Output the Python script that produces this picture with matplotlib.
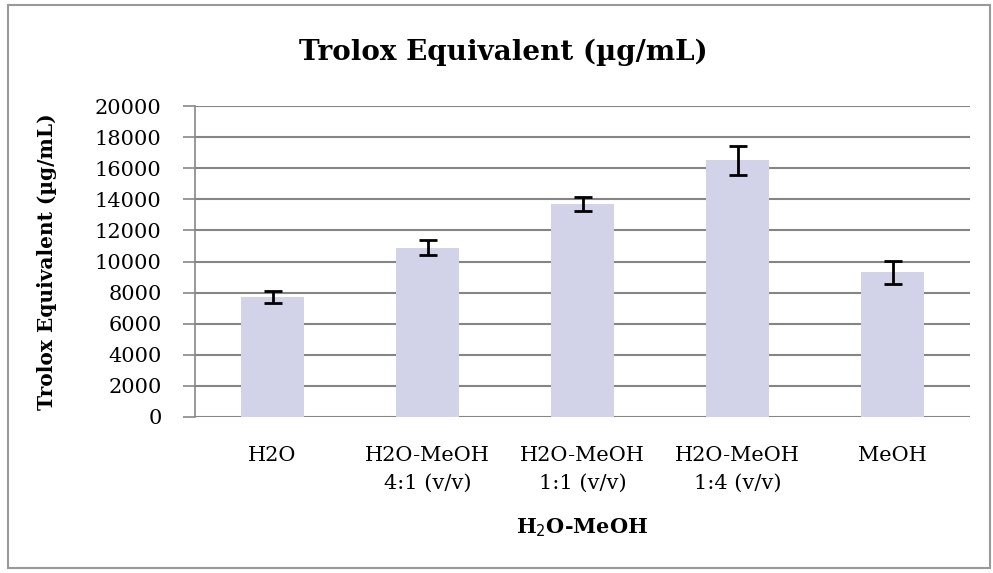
import matplotlib
matplotlib.use("Agg")
import matplotlib.pyplot as plt
from matplotlib.patches import Rectangle

# data
categories = ["H2O", "H2O-MeOH\n4:1 (v/v)", "H2O-MeOH\n1:1 (v/v)", "H2O-MeOH\n1:4 (v/v)", "MeOH"]
trolox = [7700, 10900, 13700, 16500, 9300]
trolox_err = [400, 500, 450, 950, 750]
yticks = [0, 2000, 4000, 6000, 8000, 10000, 12000, 14000, 16000, 18000, 20000]

plt.rcParams['font.family'] = ['DejaVu Serif']

fig = plt.figure(figsize=(9.93, 5.73), dpi=100)
ax = fig.add_axes([195/993, 1 - 417/573, 775/993, 311/573])

x = range(len(categories))
ax.bar(x, trolox, width=0.41, color='#d2d2e8', zorder=2,
       yerr=trolox_err, error_kw=dict(ecolor='black', elinewidth=2, capsize=6.5, capthick=2, zorder=3))

ax.set_xlim(-0.5, 4.5)
ax.set_ylim(0, 20000)
ax.set_yticks(yticks)
ax.set_yticklabels([str(v) for v in yticks], fontsize=15)
ax.set_xticks(list(x))
ax.set_xticklabels(categories, fontsize=15, linespacing=1.55)
ax.tick_params(axis='x', length=0, pad=21)
ax.tick_params(axis='y', length=9, width=1.2, color='#888888', pad=15)
ax.yaxis.grid(True, color='#858585', linewidth=1.5, zorder=1)
for s in ['top', 'right', 'bottom']:
    ax.spines[s].set_visible(False)
ax.spines['left'].set_color('#888888')
ax.spines['left'].set_linewidth(1.2)

fig.text(503/993, 1 - 52/573, "Trolox Equivalent (\u00b5g/mL)", fontsize=20, fontweight='bold',
         ha='center', va='center')
ax.set_xlabel("H$_2$O-MeOH", fontsize=15, fontweight='bold', labelpad=17)
ax.set_ylabel("Trolox Equivalent (\u00b5g/mL)", fontsize=14.5, fontweight='bold', labelpad=27)

# outer frame of the chart object
fig.patches.append(Rectangle((8/993, 5/573), 982/993, 563/573, transform=fig.transFigure,
                             fill=False, edgecolor='#999999', linewidth=1.5))

fig.savefig("out.png", dpi=100)
